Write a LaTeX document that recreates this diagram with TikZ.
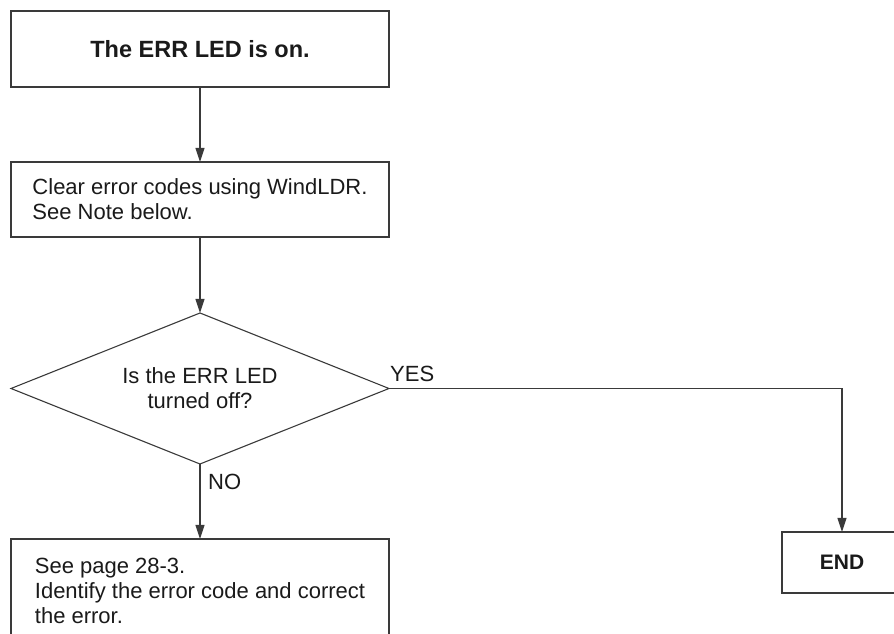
\documentclass[tikz,border=0pt]{standalone}
\usepackage{fontspec}
\setmainfont{Liberation Sans}
\usetikzlibrary{arrows.meta,shapes.geometric}
\definecolor{linegray}{HTML}{3A3A3A}
\definecolor{inkblack}{HTML}{1A1A1A}

\begin{document}
\begin{tikzpicture}[x=1pt,y=1pt,
 stepbox/.style={draw=linegray,line width=1.1pt,rectangle,minimum width=378pt,inner sep=0pt,outer sep=0pt,align=left,text=inkblack,font=\fontsize{22}{25}\selectfont},
 boldbox/.style={stepbox,align=center,font=\fontsize{23.5}{28}\selectfont\bfseries},
 check/.style={stepbox,diamond,aspect=2.5,minimum width=378pt,minimum height=151pt,align=center},
 lbl/.style={inner sep=0pt,text=inkblack,font=\fontsize{22}{25}\selectfont},
 flow/.style={draw=linegray,line width=1.1pt,-{Triangle[length=14pt,width=9pt]}}]
\useasboundingbox(0,0)rectangle(894,634);\clip(0,0)rectangle(894,634);
\node[boldbox,minimum height=76pt](led)at(200,585){The ERR LED is on.};
\node[stepbox,minimum height=75pt](clear)at(200,434.5){Clear error codes using WindLDR.\\See Note below.};
\node[check](off)at(200,245.5){Is the ERR LED\\turned off?};
\node[stepbox,minimum height=104pt](fix)at(200,43){See page 28-3.\\Identify the error code and correct\\the error.};
\node[boldbox,minimum width=120pt,minimum height=61pt,font=\fontsize{21}{25}\selectfont\bfseries](fin)at(842,71.5){END};
\draw[flow](led)--(clear);\draw[flow](clear)--(off);\draw[flow](off)--(fix);
\draw[flow](off.east)-|(fin.north);
\node[lbl,anchor=base west](yes)at([xshift=1pt,yshift=7pt]off.east){YES};
\node[lbl,anchor=base west](no)at([xshift=8pt,yshift=-26pt]off.south){NO};
\end{tikzpicture}
\end{document}
